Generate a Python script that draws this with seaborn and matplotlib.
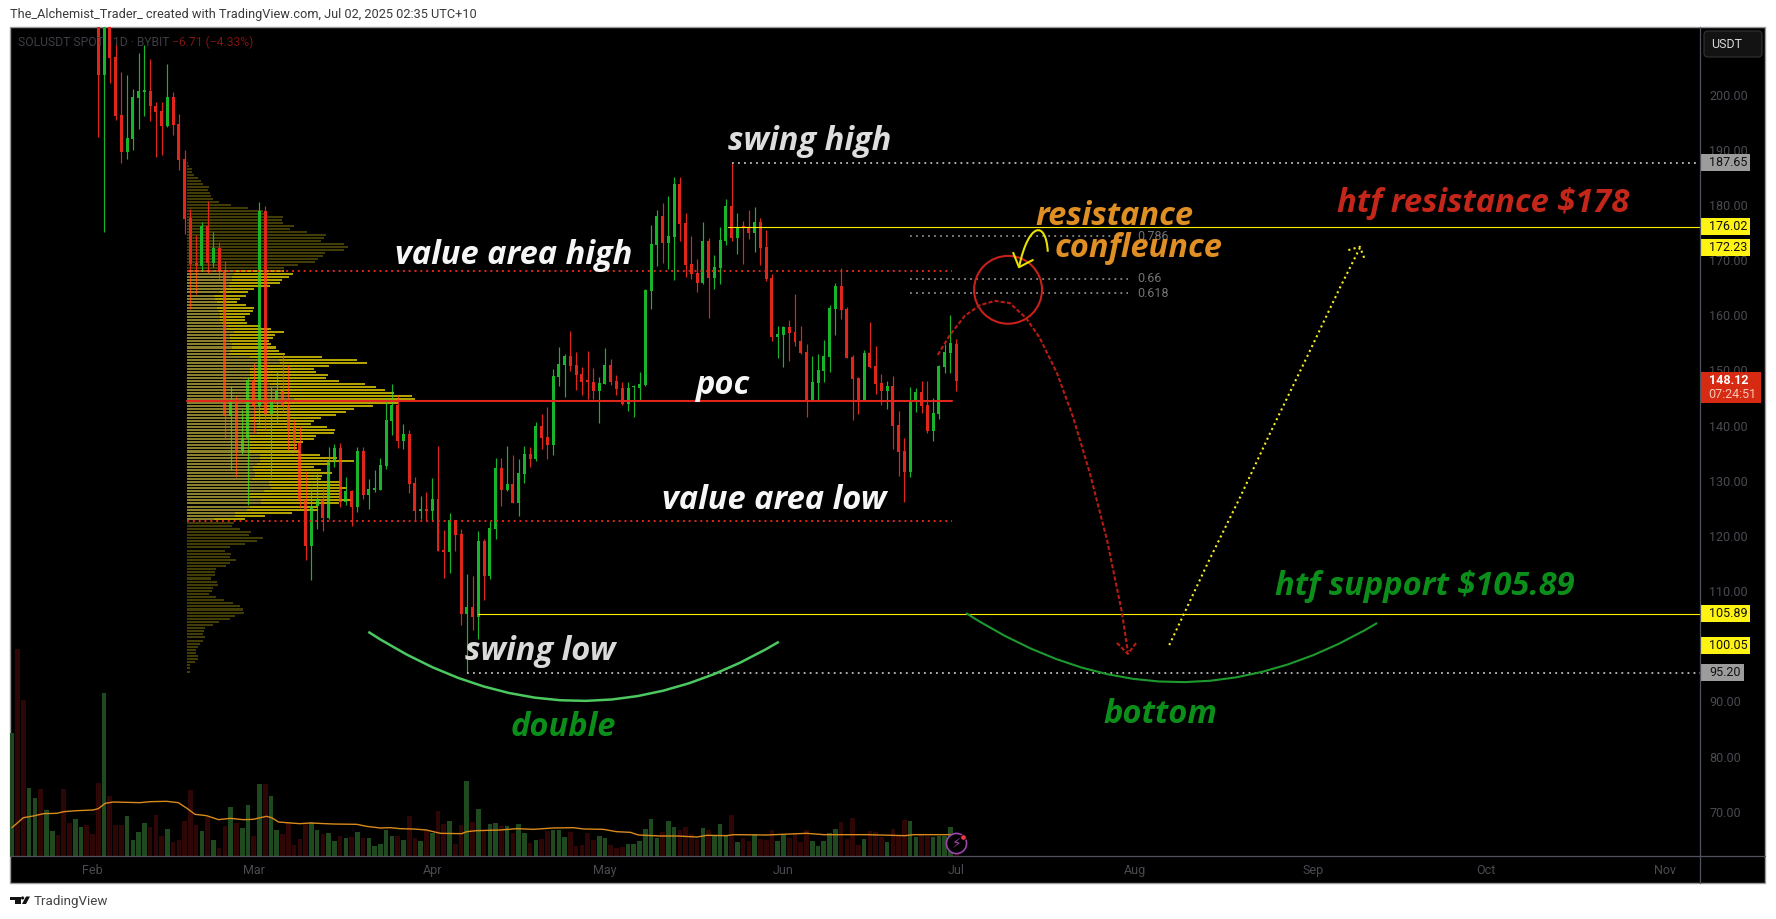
import numpy as np
import pandas as pd
import matplotlib
matplotlib.use("Agg")
import matplotlib.pyplot as plt
import seaborn as sns
from matplotlib.lines import Line2D
from matplotlib.patches import Ellipse, FancyBboxPatch, PathPatch, Polygon, Rectangle, Circle
from matplotlib.path import Path
from matplotlib.transforms import IdentityTransform, blended_transform_factory

# Daily SOLUSDT candles, 2 Feb to 1 Jul 2025
candle_open = [
    222,203.5,221,206.8,196.3,189.5,191.9,199.3,200.5,200.6,
    198,197,194.3,199.5,194.6,188.3,177.6,169.4,168.9,176.1,
    169.4,172.1,168,141.7,144.3,135.2,137.7,148.2,143.5,178.9,
    142.1,144.6,146.3,143.7,139.7,137,126.5,118.2,125.4,126.7,
    123.2,133.4,135.9,126.1,128.1,125.2,135.4,127.4,128.3,128.3,
    132.7,140.8,143.7,137.2,138.5,129.6,124.5,124.9,124.5,126.7,
    117.4,117,122.9,120.3,105.8,107.1,105.3,119.1,112.7,121.2,
    132.3,128.3,129.4,125.9,131.2,134.8,133.9,139.9,137.9,136.5,
    148.8,151,152.6,151,149.3,148,147.9,146.3,147.5,151,
    148.1,146.8,143.9,146.9,146.8,147.4,164.4,172.7,178,173.1,
    174.2,183.8,176.7,169.3,167.6,165.8,173.5,166.7,168.6,173.5,
    179.8,174,176,175.8,174.9,176.9,172.4,166.7,156,156.4,
    157.9,157,155.3,153.3,144.5,147.7,149.9,152.4,161.1,165.3,
    161.1,152.4,148.6,144.5,153.1,150.8,147.7,146.3,147.2,140.1,
    135.4,131.6,144.5,146.1,143.7,139,142.1,150.6,153.1,154.83,
]
candle_close = [
    203.5,221,206.6,196.1,189.5,192.1,199.5,200.6,200.7,197.9,
    196.8,194.3,199.5,194.4,188.1,177.4,169.2,168.9,176.1,169.4,
    172.1,168,141.8,144.3,135.2,137.7,148.2,143.5,178.9,142.1,
    144.3,146.3,143.5,139.4,137,126.5,118.2,125.4,126.7,123.2,
    133.4,135.9,126.1,128.1,125.2,135.4,127.4,128.5,128.5,132.8,
    141,143.7,137.2,138.5,129.4,124.5,124.9,124.5,126.7,117.2,
    117,122.9,120.2,105.8,107.1,105.3,119.1,112.7,121.4,132.3,
    128.3,129.4,125.9,131.4,134.8,133.9,139.9,137.7,136.5,149,
    151.1,152.6,150.8,149.2,147.9,147.9,146.3,147.7,151,147.9,
    146.6,143.9,146.8,147,147.5,164.6,172.9,178,173.1,174.4,
    183.8,176.5,169.1,167.5,165.8,173.5,166.7,168.7,173.6,179.8,
    174,176,175.9,174.9,176.9,172.2,166.6,156,156.6,157.9,
    156.8,155.1,153.1,144.4,147.9,150,152.6,161.3,165.3,160.9,
    152.2,148.4,144.5,153.1,150.6,147.5,146.3,147.2,139.9,135.2,
    131.6,144.5,146.1,143.5,139,142.3,150.8,153.3,155,148.12,
]
candle_high = [
    226,226,224,209.5,204.1,203.5,201,207.5,209,206.4,
    198.6,198.6,205.5,200.4,196.4,189.9,179.2,174.5,176.9,180.7,
    175,173.2,169.8,147.2,145.3,143,148.8,151.3,180.5,179.8,
    147,149.9,153,151,141.2,139.9,131.8,128.5,131.3,128.9,
    136.1,136.6,136.8,130.7,128.3,136.1,136.1,130.3,131.9,134.1,
    145,147.5,145.5,140.3,139.2,130.7,127.2,127.9,130.5,136.3,
    121,124.1,122.9,121.2,113.1,112.7,120.9,119.4,122.7,134.1,
    134.1,136.3,134.7,133.9,136.3,136.1,140.6,142.1,143.4,150.2,
    154.2,153,157.1,153.3,150.6,153.5,150.4,148.8,154,152,
    149.2,147.9,147.9,147.4,149.7,164.7,176.4,179.1,180.3,181.6,
    185,185,178.5,174.4,170.2,176.9,174,171,176,181.1,
    187.65,178.5,177.1,179.1,179.6,177.6,175.4,167.5,158,158,
    159.1,163.8,158,154.8,152.6,153,155.5,161.9,165.8,168.6,
    161.5,152.8,148.8,153.7,158.8,154.4,149.3,148,149,142.6,
    137.7,147,146.8,148.1,148.1,145,151,154.8,160,155.7,
]
candle_low = [
    192.3,175.1,202,195.3,187.6,188.3,189.9,193.7,196.1,195.2,
    188.6,189,194.2,192.6,186.3,174.7,161.1,163.9,168,167.7,
    168.7,166.6,137.6,132,130.7,134.8,125.6,138.6,140.1,139.2,
    130.7,140.3,142.6,135.6,135.6,125,115.6,112,121.2,120.9,
    123,132.5,125.2,125.6,121.8,124.3,126.7,124.9,128,128.3,
    132.1,138.3,135.9,135.7,127.8,122.7,123,122.7,122.7,117.2,
    112.4,113.3,117.2,103.8,95.2,103,101.3,108.4,112.2,119.4,
    125.4,128.1,125.9,123.6,129.6,132.5,133.6,135.7,133.9,134.7,
    147.2,145.2,149.9,146.4,145.5,144.8,144.8,140.5,147.5,147.3,
    145.5,143.7,142.6,141.5,144.6,147.2,161.1,168.9,169.5,168.4,
    166.4,173.5,166.9,166.6,164.2,165.6,159.5,164.8,165.6,172.7,
    173.5,171.1,169.3,173.8,171.5,169.1,166.2,155.3,152.2,150.6,
    151.7,154.4,153,141.5,144.5,144.5,147.9,149.7,156.4,159.3,
    152.2,141,142.1,144.5,150.4,145.7,143.7,143,135.7,130.9,
    126.1,130.7,142.5,142.3,138.6,137.2,141.2,149.5,149.5,146.3,
]

# Volume from 18 Jan onward, relative units
volume = [
    368,621,467,203,173,200,137,74,62,200,98,110,86,92,65,218,488,179,92,92,
    119,47,71,98,86,122,59,80,41,47,104,197,92,74,116,47,23,89,146,98,
    83,152,59,215,215,179,77,65,98,32,50,98,101,77,65,68,44,59,53,56,
    71,53,53,29,35,77,59,59,47,119,53,44,77,68,134,95,104,35,92,224,
    101,140,74,95,98,
    89,89,68,95,68,38,47,50,74,77,77,56,71,29,32,68,47,59,53,32,
    23,26,35,35,44,80,110,53,71,104,86,77,86,65,50,83,77,62,95,62,
    122,41,53,44,65,50,47,77,44,62,53,65,41,77,44,29,44,68,80,101,
    50,113,32,50,74,71,56,41,80,59,107,104,56,62,59,56,59,59,86,30,
]
first_volume_day = -14
volume_up_before_candles = [1,0,0,1,1,0,1,1,0,0,0,1,1,0,0]

# Volume moving average
ma_days = [
    -14,-13,-12,-10.3,-8.5,-6.2,-5,-2.7,0.1,1,2.2,3.6,5.9,8.2,10,12.9,14.9,16.4,17.8,19.8,
    21.9,23.9,26.2,27.9,30.2,31.1,32.3,33.7,36,37.8,41.8,45.9,47.6,50,51.7,53.4,55.7,58,60.4,64.1,
    65,66.7,70.8,73.7,76.6,80,83.5,85.3,88.7,91,93.4,94.8,98.6,101.5,105,106.7,110.1,111.3,117.1,
    124,127,134.5,141.1,142.6,149,
]
ma_values = [
    85,100,115,120,127,128,133,136,138,142,158,162,161,160,163,164,160,143,125,121,
    109,113,109,110,119,115,102,100,97,99,96,95,89,84,85,82,81,78,68,67,
    73,76,78,82,80,84,85,81,80,73,71,63,60,60,57,62,61,64,63,68,64,64,61,64,64,
]

# Volume-by-price rows, top to bottom: above, inside and below the value area
profile_above = [4,7,14,14,21,33,42,48,66,63,69,72,78,96,132,183,229,239,288,285,288,321,309,360,
                 417,411,402,471,483,471,414,408,393,384,333,292]
profile_value_total = [
    291,318,306,285,279,249,201,183,177,159,149,177,201,198,189,174,174,180,219,252,
    291,264,258,246,252,267,276,294,405,510,540,426,381,387,423,417,456,534,567,594,
    621,675,684,633,558,501,477,447,402,381,372,420,444,441,387,381,348,330,330,339,
    399,450,501,429,381,402,435,405,402,459,459,480,459,459,459,492,456,393,393,315,234,174,
]
profile_value_up = [
    144,140,135,135,130,125,115,100,80,85,91,107,89,95,99,99,99,104,119,119,
    141,129,129,129,134,134,129,126,189,276,279,219,189,189,189,189,204,249,279,279,
    279,309,321,285,231,219,204,204,189,189,209,209,209,209,184,189,189,189,189,184,
    219,219,219,209,199,197,203,203,194,246,246,252,231,189,189,221,221,189,179,144,144,81,
]
profile_below = [141,135,159,192,186,228,210,174,129,114,132,129,147,129,117,87,84,84,72,90,93,78,
                 75,66,87,111,138,159,168,171,144,129,96,78,54,51,48,54,48,39,33,27,27,33,33,24,9,9,9]

# Levels
swing_high = 187.65
swing_low = 95.20
resistance = 176.02
support = 105.89
value_area_high = 168.0
value_area_low = 122.75
point_of_control = 144.4
fib_levels = [174.35, 166.6, 164.0]
fib_labels = ["0.786", "0.66", "0.618"]

# Sketched projection paths
drop_days = [146.8,148.9,151.5,154.1,156.7,159.3,162.1,164.5,167.5,170.3,173.2,176.2,178.8,179.8]
drop_prices = [152.8,156.4,159.9,161.8,162.6,162.2,159.5,155.9,149.5,141.5,131.4,119.2,106.0,99.0]
rise_days = [187.0,189.7,193.7,199.3,204.5,210.9,216.6,220.1]
rise_prices = [100.2,106.2,115.1,127.0,138.6,152.4,164.9,172.2]

price_ticks = [200, 190, 180, 170, 160, 150, 140, 130, 120, 110, 100, 90, 80, 70]
month_days = [0, 28, 59, 89, 120, 150, 181, 212, 242, 273]
month_labels = ["Feb", "Mar", "Apr", "May", "Jun", "Jul", "Aug", "Sep", "Oct", "Nov"]

W, H = 1776, 919
GREEN, RED = "#18b42a", "#e0261a"
AXIS = "#50535e"
TICK = "#4a4a52"
UI_FONT = "Roboto"
NOTE_FONT = "Open Sans"


def fx(x):
    return x / W


def fy(y):
    return 1 - y / H


sns.set_theme(style="dark")
plt.rcParams["font.family"] = [UI_FONT, "DejaVu Sans"]
plt.rcParams["axes.grid"] = False

fig = plt.figure(figsize=(W / 100, H / 100), dpi=100, facecolor="white")
fig.add_artist(Rectangle((fx(10), fy(883)), fx(1755), 856 / H, transform=fig.transFigure,
                         facecolor="black", edgecolor="#9a9a9a", lw=1.0, zorder=-5))

ax = fig.add_axes([fx(10), fy(856), fx(1690), 829 / H])
vol_ax = ax.twinx()
ax.set_zorder(2)
vol_ax.set_zorder(1)
ax.patch.set_visible(False)
vol_ax.patch.set_facecolor("black")

# Volume pane with its moving average
days = np.arange(1, len(candle_open) + 1)
opens, closes = np.array(candle_open), np.array(candle_close)
highs, lows = np.array(candle_high), np.array(candle_low)
up = closes >= opens
volume_days = np.arange(first_volume_day, first_volume_day + len(volume))
volume_side = np.r_[np.array(volume_up_before_candles, dtype=bool), up]
volume_frame = pd.DataFrame({
    "day": volume_days,
    "volume": volume,
    "side": np.where(volume_side, "up", "down"),
})
sns.barplot(data=volume_frame, x="day", y="volume", hue="side", native_scale=True, dodge=False,
            palette={"up": "#1f4a20", "down": "#2e0606"}, width=0.8, legend=False, ax=vol_ax,
            saturation=1, linewidth=0, edgecolor="none")
sns.lineplot(x=ma_days, y=ma_values, color="#d98a1c", lw=1.0, ax=vol_ax, legend=False, errorbar=None,
             estimator=None, sort=False)
vol_ax.set_ylim(0, 2487)
vol_ax.set_yticks([])
vol_ax.set_ylabel("")
vol_ax.set_xlabel("")
vol_ax.grid(False)

ax.set_ylim(61.97, 212.24)
ax.set_xlim(-14.33, 279.17)
vol_ax.set_xlim(-14.33, 279.17)
right_edge = ax.get_xlim()[1]

# Volume profile
PROFILE_LEFT = 16.4
PROFILE_SCALE = 1 / (3 * 5.758)
ROW_H = 0.37
rows_above = np.linspace(swing_high, 168.5, len(profile_above))
rows_value = np.linspace(168.0, 123.1, len(profile_value_total))
rows_below = np.linspace(122.4, 95.4, len(profile_below))
value_total = np.array(profile_value_total) * PROFILE_SCALE
value_up = np.array(profile_value_up) * PROFILE_SCALE


def value_rows(total_color, up_color, zorder, alpha=1.0):
    ax.barh(rows_value, value_total, left=PROFILE_LEFT, height=ROW_H, color=total_color,
            lw=0, zorder=zorder, alpha=alpha)
    if up_color is not None:
        ax.barh(rows_value, value_up, left=PROFILE_LEFT, height=ROW_H, color=up_color,
                lw=0, zorder=zorder + 0.1, alpha=alpha)


ax.barh(rows_above, np.array(profile_above) * PROFILE_SCALE, left=PROFILE_LEFT, height=ROW_H,
        color="#423d06", lw=0, zorder=1)
ax.barh(rows_below, np.array(profile_below) * PROFILE_SCALE, left=PROFILE_LEFT, height=ROW_H,
        color="#423d06", lw=0, zorder=1)
value_rows("#968a00", "#5f5a40", 1)

# Candles
colors = np.where(up, GREEN, RED)
ax.vlines(days, lows, highs, colors=colors, lw=0.85, zorder=2)
body_low = np.minimum(opens, closes)
body_height = np.maximum(np.abs(closes - opens), 0.3)
ax.bar(days, body_height, bottom=body_low, width=0.52, color=colors, lw=0, zorder=2.1)

# A thin tint of the profile runs over the candles inside the value area
value_rows("#ffe600", None, 3, alpha=0.28)

# Horizontal levels
GREY_DOT = "#bdbdbd"
DOTS = (0, (1, 2.33))
ax.plot([111, right_edge], [swing_high] * 2, color=GREY_DOT, lw=1.3, ls=DOTS, zorder=4)
ax.plot([65, right_edge], [swing_low] * 2, color=GREY_DOT, lw=1.3, ls=DOTS, zorder=4)
ax.plot([110.4, right_edge], [resistance] * 2, color="#ffee00", lw=0.8, zorder=4)
ax.plot([67, right_edge], [support] * 2, color="#ffee00", lw=0.8, zorder=4)
ax.plot([PROFILE_LEFT, 149.2], [value_area_high] * 2, color="#e0261a", lw=1.4, ls=(0, (1, 2)), zorder=4)
ax.plot([PROFILE_LEFT, 149.2], [value_area_low] * 2, color="#e0261a", lw=1.4, ls=(0, (1, 2)), zorder=4)
ax.plot([PROFILE_LEFT, 149.2], [point_of_control] * 2, color="#e0261a", lw=1.5, zorder=4)

for level, label in zip(fib_levels, fib_labels):
    ax.plot([142, 179.8], [level] * 2, color="#8a8a8a", lw=1.3, ls=DOTS, zorder=4)
    ax.text(181.5, level, label, color="#737373", fontsize=9, va="center", ha="left", zorder=4)

# Confluence marker and projected path
ax.add_patch(Ellipse((159, 164.6), 11.8, 12.3, fill=False, edgecolor="#c8201a", lw=1.5, zorder=5))
ax.plot(drop_days, drop_prices, color="#b81c12", lw=1.5, ls=(0, (2, 1)), zorder=5)
ax.plot([177.9, 179.8, 181.4], [100.6, 98.6, 100.8], color="#b81c12", lw=1.5, ls=(0, (2, 1)), zorder=5)
ax.plot(rise_days, rise_prices, color="#f6ec1e", lw=1.5, ls=(0, (1, 1.6)), zorder=5)
ax.plot([218.1, 220.1, 221.0], [171.8, 172.4, 170.0], color="#f6ec1e", lw=1.5, ls=(0, (1, 1.6)), zorder=5)

# Small hand-drawn pointer into the circle
ax.add_patch(PathPatch(Path([(165.9, 171.5), (165.6, 177.2), (162.6, 177.0), (160.9, 168.7)],
                            [Path.MOVETO, Path.CURVE4, Path.CURVE4, Path.CURVE4]),
                       fill=False, edgecolor="#e8e000", lw=1.5, zorder=6))
ax.plot([159.9, 160.9, 163.3], [171.3, 168.7, 170.0], color="#e8e000", lw=1.5, zorder=6)

# Bottoming arcs
ax.add_patch(PathPatch(Path([(47.9, 102.6), (83.4, 78.5), (119.2, 100.8)],
                            [Path.MOVETO, Path.CURVE3, Path.CURVE3]),
                       fill=False, edgecolor="#4cc860", lw=1.8, zorder=5))
ax.add_patch(PathPatch(Path([(151.7, 106.0), (187.5, 81.9), (223.1, 104.2)],
                            [Path.MOVETO, Path.CURVE3, Path.CURVE3]),
                       fill=False, edgecolor="#1d9a2e", lw=1.5, zorder=5))

# Hand-written notes
notes = [
    ("swing high", 124.6, 191.4, "#dedede"),
    ("value area high", 73.2, 170.9, "#f6f6f6"),
    ("poc", 109.3, 147.3, "#f6f6f6"),
    ("value area low", 118.4, 126.4, "#f6f6f6"),
    ("swing low", 77.7, 99.1, "#dadada"),
    ("double", 81.7, 85.2, "#0b8f1a"),
    ("bottom", 185.4, 87.7, "#0b8f1a"),
    ("resistance", 177.4, 177.9, "#e08f24"),
    ("confleunce", 181.6, 172.0, "#e08f24"),
    ("htf resistance $178", 241.5, 180.2, "#c4261a"),
    ("htf support $105.89", 231.4, 110.8, "#0b8f1a"),
]
for text, day, price, color in notes:
    ax.text(day, price, text, color=color, family=NOTE_FONT, style="italic", weight="bold",
            fontsize=23.5, ha="center", va="center", zorder=7)

# Axes
ax.yaxis.tick_right()
ax.set_yticks(price_ticks)
ax.set_yticklabels([f"{p:.2f}" for p in price_ticks], color=TICK, fontsize=9)
ax.set_xticks(month_days)
ax.set_xticklabels(month_labels, color=TICK, fontsize=9)
ax.tick_params(axis="y", length=0, pad=6.5)
ax.tick_params(axis="x", length=0, pad=5.5)
for spine in ax.spines.values():
    spine.set_visible(False)
for spine in vol_ax.spines.values():
    spine.set_visible(False)
vol_ax.tick_params(axis="x", length=0, labelbottom=False)
fig.add_artist(Line2D([fx(10), fx(1765)], [fy(856)] * 2, color=AXIS, lw=0.9, zorder=10))
fig.add_artist(Line2D([fx(1700)] * 2, [fy(27), fy(883)], color=AXIS, lw=0.9, zorder=10))

# Price tags on the scale
tag_tf = blended_transform_factory(ax.transAxes, ax.transData)


def price_tag(price, face, width_px=49):
    ax.add_patch(Rectangle((1 + 1.2 / 1690, price - 8.5 / 5.517), width_px / 1690, 17 / 5.517,
                           transform=tag_tf, facecolor=face, lw=0, clip_on=False, zorder=8))
    ax.text(1 + 9 / 1690, price, f"{price:.2f}", transform=tag_tf, color="#111111", fontsize=9,
            va="center", ha="left", clip_on=False, zorder=9)


price_tag(swing_high, "#9c9c9c")
price_tag(resistance, "#fff314")
price_tag(172.23, "#fff314")
price_tag(support, "#fff314")
price_tag(100.05, "#fff314")
price_tag(swing_low, "#9c9c9c", width_px=43)

ax.add_patch(Rectangle((1 + 1.2 / 1690, 144.05), 60 / 1690, 31 / 5.517, transform=tag_tf,
                       facecolor="#d62a12", lw=0, clip_on=False, zorder=8))
ax.text(1 + 9 / 1690, 148.25, "148.12", transform=tag_tf, color="white", weight="bold", fontsize=9,
        va="center", ha="left", clip_on=False, zorder=9)
ax.text(1 + 8 / 1690, 145.6, "07:24:51", transform=tag_tf, color="#f6c6b6", fontsize=9,
        va="center", ha="left", clip_on=False, zorder=9)

# Currency button
fig.add_artist(FancyBboxPatch((1704, H - 57), 58, 26, boxstyle="round,pad=0,rounding_size=4",
                              transform=IdentityTransform(), facecolor="#131313", edgecolor="#333333",
                              lw=0.8, zorder=11))
fig.text(fx(1727), fy(44.5), "USDT", color="#d8d8d8", fontsize=9, ha="center", va="center", zorder=12)

# Header and footer
fig.text(fx(10), fy(14.7), "The_Alchemist_Trader_ created with TradingView.com, Jul 02, 2025 02:35 UTC+10",
         color="#3a3a3a", fontsize=9.2, ha="left", va="center")
fig.text(fx(18), fy(42), "SOLUSDT SPOT · 1D · BYBIT", color="#3e3e46", fontsize=8.7, ha="left",
         va="center", zorder=12)
fig.text(fx(172), fy(42), "\u22126.71 (\u22124.33%)", color="#7c1410", fontsize=8.7, ha="left",
         va="center", zorder=12)
fig.text(fx(34), fy(901.5), "TradingView", color="#444444", fontsize=9.6, ha="left", va="center")
for pts in ([(10, 896.5), (20.5, 896.5), (20.5, 904), (15, 904), (15, 899.5), (10, 899.5)],
            [(22, 904), (26, 896.5), (30, 896.5), (26, 904)]):
    fig.add_artist(Polygon([(fx(x), fy(y)) for x, y in pts], transform=fig.transFigure,
                           facecolor="#131313", lw=0))
fig.add_artist(Circle((22.6, H - 898), 1.6, transform=IdentityTransform(), facecolor="#131313", lw=0))

# Event badge on the last bar
ax.plot([150], [64.3], marker="o", ms=14.5, mfc="black", mec="#a044b0", mew=1.2, zorder=9, clip_on=False)
ax.text(150, 64.2, "\u26A1", family="DejaVu Sans", color="#a044b0", fontsize=10, ha="center", va="center", zorder=10)
ax.plot([151.2], [65.5], marker="o", ms=4, mfc="#f23645", mec="black", mew=0.6, zorder=10)

fig.savefig("out.png", dpi=100, facecolor="white")
